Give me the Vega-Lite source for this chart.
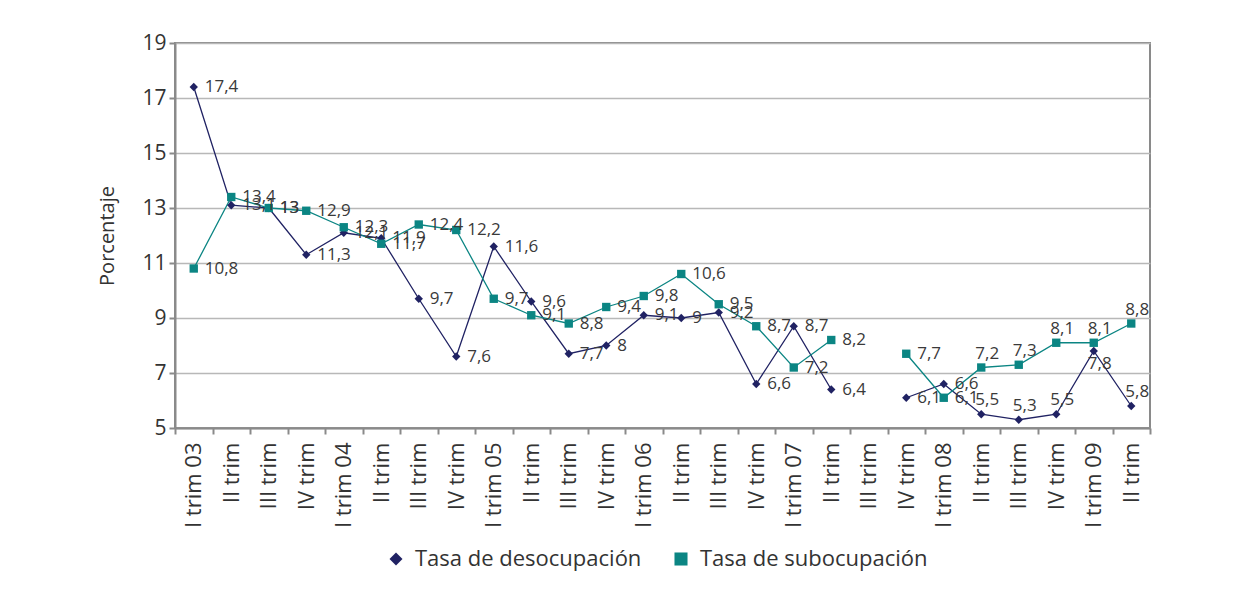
{
  "$schema": "https://vega.github.io/schema/vega-lite/v6.json",
  "autosize": "none",
  "width": 975,
  "height": 385,
  "padding": {"left": 175, "top": 43, "right": 108, "bottom": 185},
  "background": "white",
  "config": {
    "locale": {"number": {"decimal": ",", "thousands": ".", "grouping": [3], "currency": ["", ""]}},
    "font": "Open Sans",
    "view": {"stroke": "#8a8a8a", "strokeWidth": 2}
  },
  "data": {"values": [
    {"q": "I trim 03", "Tasa de desocupación": 17.4, "Tasa de subocupación": 10.8},
    {"q": "II trim 03", "Tasa de desocupación": 13.1, "Tasa de subocupación": 13.4},
    {"q": "III trim 03", "Tasa de desocupación": 13, "Tasa de subocupación": 13},
    {"q": "IV trim 03", "Tasa de desocupación": 11.3, "Tasa de subocupación": 12.9},
    {"q": "I trim 04", "Tasa de desocupación": 12.1, "Tasa de subocupación": 12.3},
    {"q": "II trim 04", "Tasa de desocupación": 11.9, "Tasa de subocupación": 11.7},
    {"q": "III trim 04", "Tasa de desocupación": 9.7, "Tasa de subocupación": 12.4},
    {"q": "IV trim 04", "Tasa de desocupación": 7.6, "Tasa de subocupación": 12.2},
    {"q": "I trim 05", "Tasa de desocupación": 11.6, "Tasa de subocupación": 9.7},
    {"q": "II trim 05", "Tasa de desocupación": 9.6, "Tasa de subocupación": 9.1},
    {"q": "III trim 05", "Tasa de desocupación": 7.7, "Tasa de subocupación": 8.8},
    {"q": "IV trim 05", "Tasa de desocupación": 8, "Tasa de subocupación": 9.4},
    {"q": "I trim 06", "Tasa de desocupación": 9.1, "Tasa de subocupación": 9.8},
    {"q": "II trim 06", "Tasa de desocupación": 9, "Tasa de subocupación": 10.6},
    {"q": "III trim 06", "Tasa de desocupación": 9.2, "Tasa de subocupación": 9.5},
    {"q": "IV trim 06", "Tasa de desocupación": 6.6, "Tasa de subocupación": 8.7},
    {"q": "I trim 07", "Tasa de desocupación": 8.7, "Tasa de subocupación": 7.2},
    {"q": "II trim 07", "Tasa de desocupación": 6.4, "Tasa de subocupación": 8.2},
    {"q": "III trim 07", "Tasa de desocupación": null, "Tasa de subocupación": null},
    {"q": "IV trim 07", "Tasa de desocupación": 6.1, "Tasa de subocupación": 7.7},
    {"q": "I trim 08", "Tasa de desocupación": 6.6, "Tasa de subocupación": 6.1},
    {"q": "II trim 08", "Tasa de desocupación": 5.5, "Tasa de subocupación": 7.2},
    {"q": "III trim 08", "Tasa de desocupación": 5.3, "Tasa de subocupación": 7.3},
    {"q": "IV trim 08", "Tasa de desocupación": 5.5, "Tasa de subocupación": 8.1},
    {"q": "I trim 09", "Tasa de desocupación": 7.8, "Tasa de subocupación": 8.1},
    {"q": "II trim 09", "Tasa de desocupación": 5.8, "Tasa de subocupación": 8.8}
  ]},
  "transform": [
    {"fold": ["Tasa de desocupación", "Tasa de subocupación"], "as": ["serie", "v"]}
  ],
  "encoding": {
    "x": {
      "field": "q", "type": "nominal", "sort": null,
      "scale": {"type": "band", "paddingInner": 0, "paddingOuter": 0,
        "domain": ["I trim 03","II trim 03","III trim 03","IV trim 03","I trim 04","II trim 04","III trim 04","IV trim 04","I trim 05","II trim 05","III trim 05","IV trim 05","I trim 06","II trim 06","III trim 06","IV trim 06","I trim 07","II trim 07","III trim 07","IV trim 07","I trim 08","II trim 08","III trim 08","IV trim 08","I trim 09","II trim 09"]},
      "axis": {
        "title": null, "labelAngle": -90, "labelFontSize": 22, "labelColor": "#333333",
        "labelExpr": "indexof(datum.label, 'I trim') == 0 ? datum.label : slice(datum.label, 0, -3)",
        "tickBand": "extent", "tickSize": 6, "tickColor": "#8a8a8a", "tickWidth": 2,
        "domainColor": "#8a8a8a", "domainWidth": 2, "labelPadding": 8, "grid": false
      }
    },
    "y": {
      "field": "v", "type": "quantitative",
      "scale": {"domain": [5, 19], "nice": false, "zero": false},
      "axis": {
        "title": "Porcentaje", "titleFontSize": 20, "titleFontWeight": "normal", "titleColor": "#333333", "titlePadding": 24,
        "values": [5, 7, 9, 11, 13, 15, 17, 19], "labelFontSize": 21, "labelColor": "#333333", "labelPadding": 3,
        "tickSize": 6, "tickColor": "#8a8a8a", "tickWidth": 2, "domainColor": "#8a8a8a", "domainWidth": 2,
        "grid": true, "gridColor": "#b8b8b8", "gridWidth": 1.5
      }
    },
    "color": {
      "field": "serie", "type": "nominal",
      "scale": {"domain": ["Tasa de desocupación", "Tasa de subocupación"], "range": ["#202263", "#0b8583"]},
      "legend": {
        "title": null, "orient": "none", "direction": "horizontal", "legendX": 210, "legendY": 505,
        "labelFontSize": 22, "labelColor": "#333333", "labelLimit": 400, "symbolSize": 170, "symbolStrokeWidth": 0,
        "columnPadding": 28, "labelOffset": 8
      }
    }
  },
  "layer": [
    {"mark": {"type": "line", "strokeWidth": 1.3, "invalid": "break-paths-show-domains"}},
    {
      "mark": {"type": "point", "filled": true, "size": 70, "opacity": 1},
      "encoding": {
        "shape": {
          "field": "serie", "type": "nominal",
          "scale": {"domain": ["Tasa de desocupación", "Tasa de subocupación"], "range": ["diamond", "square"]},
          "legend": {
            "title": null, "orient": "none", "direction": "horizontal", "legendX": 210, "legendY": 505,
            "labelFontSize": 22, "labelColor": "#333333", "labelLimit": 400, "symbolSize": 170, "symbolStrokeWidth": 0,
            "columnPadding": 28, "labelOffset": 8
          }
        }
      }
    },
    {
      "transform": [{"filter": "isValid(datum.v) && !(indexof(['II trim 08','III trim 08','IV trim 08','II trim 09','I trim 09'], datum.q) >= 0)"}],
      "mark": {"type": "text", "align": "left", "baseline": "middle", "dx": 11, "fontSize": 17},
      "encoding": {"text": {"field": "v", "type": "quantitative", "format": ".3~g"}, "color": {"value": "#3a3a3a"}}
    },
    {
      "transform": [{"filter": "isValid(datum.v) && (indexof(['II trim 08','III trim 08','IV trim 08','II trim 09'], datum.q) >= 0 || (datum.serie == 'Tasa de subocupación' && datum.q == 'I trim 09'))"}],
      "mark": {"type": "text", "align": "center", "baseline": "bottom", "dx": 6, "dy": -5, "fontSize": 17},
      "encoding": {"text": {"field": "v", "type": "quantitative", "format": ".3~g"}, "color": {"value": "#3a3a3a"}}
    },
    {
      "transform": [{"filter": "isValid(datum.v) && datum.serie == 'Tasa de desocupación' && datum.q == 'I trim 09'"}],
      "mark": {"type": "text", "align": "center", "baseline": "top", "dx": 6, "dy": 5, "fontSize": 17},
      "encoding": {"text": {"field": "v", "type": "quantitative", "format": ".3~g"}, "color": {"value": "#3a3a3a"}}
    }
  ]
}
